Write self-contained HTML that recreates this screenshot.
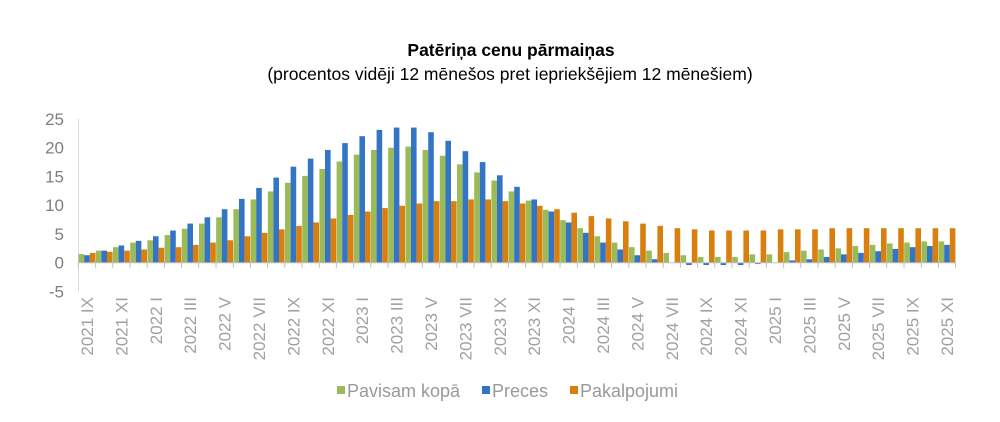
<!DOCTYPE html>
<html><head><meta charset="utf-8"><style>
body{margin:0;background:#fff;}
svg{display:block;font-family:"Liberation Sans",Arial,sans-serif;}
</style></head><body>
<svg id="chart" width="1000" height="422" viewBox="0 0 1000 422" xmlns="http://www.w3.org/2000/svg">
<text x="511" y="56" text-anchor="middle" font-size="17.5" font-weight="bold" fill="#000">Patēriņa cenu pārmaiņas</text>
<text x="510" y="80" text-anchor="middle" font-size="17.5" fill="#000">(procentos vidēji 12 mēnešos pret iepriekšējiem 12 mēnešiem)</text>
<g id="yaxis"></g>
<g id="bars"></g>
<g id="xaxis"></g>
<g>
<g><rect x="337" y="386" width="8" height="8" fill="#9bbb59"/><text x="347" y="397" font-size="18" fill="#999">Pavisam kopā</text></g>
<g><rect x="482" y="386" width="8" height="8" fill="#3474c4"/><text x="492" y="397" font-size="18" fill="#999">Preces</text></g>
<g><rect x="570" y="386" width="8" height="8" fill="#d97f10"/><text x="580" y="397" font-size="18" fill="#999">Pakalpojumi</text></g>
</g>
</svg>
<script>
const years = [2021,2021,2021,2021,2022,2022,2022,2022,2022,2022,2022,2022,2022,2022,2022,2022,2023,2023,2023,2023,2023,2023,2023,2023,2023,2023,2023,2023,2024,2024,2024,2024,2024,2024,2024,2024,2024,2024,2024,2024,2025,2025,2025,2025,2025,2025,2025,2025,2025,2025,2025];
const months = ["IX","X","XI","XII","I","II","III","IV","V","VI","VII","VIII","IX","X","XI","XII","I","II","III","IV","V","VI","VII","VIII","IX","X","XI","XII","I","II","III","IV","V","VI","VII","VIII","IX","X","XI","XII","I","II","III","IV","V","VI","VII","VIII","IX","X","XI"];
const total = [1.5,2.1,2.7,3.5,3.9,4.8,5.9,6.8,7.9,9.3,11.0,12.4,13.9,15.1,16.3,17.6,18.8,19.6,20.0,20.2,19.6,18.6,17.1,15.7,14.3,12.4,10.8,9.2,7.4,6.0,4.6,3.5,2.7,2.1,1.7,1.3,1.0,1.0,1.0,1.45,1.45,1.85,2.1,2.3,2.5,2.9,3.1,3.35,3.5,3.7,3.7];
const goods = [1.3,2.1,3.0,3.8,4.6,5.6,6.8,7.9,9.3,11.1,13.0,14.8,16.7,18.1,19.6,20.8,22.0,23.1,23.5,23.5,22.7,21.2,19.4,17.5,15.2,13.2,11.0,8.9,7.0,5.2,3.5,2.3,1.3,0.6,0.0,-0.4,-0.4,-0.4,-0.4,-0.2,0.0,0.4,0.6,1.0,1.45,1.7,2.0,2.4,2.7,2.9,3.1];
const services = [1.7,1.9,2.1,2.3,2.6,2.7,3.1,3.5,3.9,4.6,5.2,5.8,6.4,7.0,7.7,8.3,8.9,9.5,9.9,10.3,10.7,10.7,11.0,11.0,10.7,10.3,9.9,9.3,8.7,8.1,7.7,7.2,6.8,6.4,6.0,5.8,5.6,5.6,5.6,5.6,5.8,5.8,5.8,6.0,6.0,6.0,6.0,6.0,6.0,6.0,6.0];
const yTicks = [-5,0,5,10,15,20,25];

const NS="http://www.w3.org/2000/svg";
const y0=262.7, ppu=5.75, x0=87, step=17.2, bw=5.6;
const yS=v=>y0-v*ppu;
const xS=i=>x0+i*step;
function mk(tag,attrs,parent){const e=document.createElementNS(NS,tag);for(const k in attrs)e.setAttribute(k,attrs[k]);parent.appendChild(e);return e;}
const ya=document.getElementById('yaxis'),xa=document.getElementById('xaxis'),bg=document.getElementById('bars');
mk('line',{x1:78.5,x2:78.5,y1:yS(25),y2:yS(-5),stroke:'#d9d9d9'},ya);
yTicks.forEach(t=>{
  const tx=mk('text',{x:64,y:yS(t)+6,'text-anchor':'end','font-size':'17',fill:'#7f7f7f'},ya);
  tx.textContent=t;
  
  
});
mk('line',{x1:78,x2:xS(50)+step/2,y1:y0,y2:y0,stroke:'#bfbfbf'},xa);
for(let i=0;i<=51;i++){mk('line',{x1:xS(i)-step/2,x2:xS(i)-step/2,y1:y0,y2:y0+5,stroke:'#bfbfbf'},xa);}
const series=[[total,'#9bbb59','total'],[goods,'#3474c4','goods'],[services,'#d97f10','services']];
months.forEach((m,i)=>{
  series.forEach((s,k)=>{
    const v=s[0][i];const x=xS(i)+(k-1.5)*bw;
    const r=mk('rect',{x:x,width:bw,y:Math.min(yS(v),y0),height:Math.abs(yS(v)-y0),fill:s[1]},bg);
    
    
  });
  if(i%2===0){
    const t=mk('text',{x:0,y:0,'text-anchor':'end','font-size':'17',fill:'#a0a0a0',transform:'translate('+(xS(i)+6)+',297) rotate(-90)'},xa);
    t.textContent=years[i]+' '+m;
    
    
  }
});
</script>
</body></html>
